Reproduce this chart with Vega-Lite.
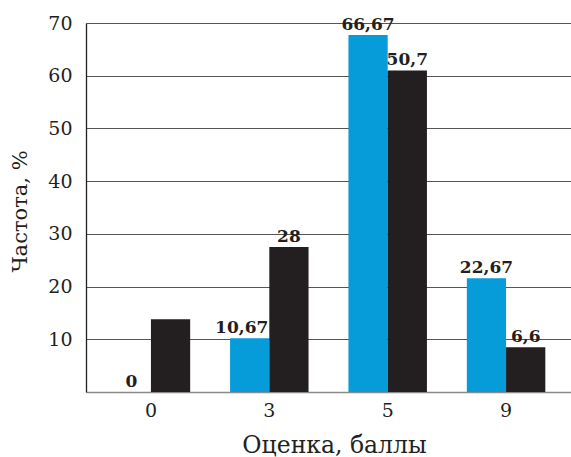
{
  "$schema": "https://vega.github.io/schema/vega-lite/v6.json",
  "width": 485,
  "height": 369,
  "autosize": {"type": "none"},
  "padding": {"left": 86, "top": 23, "right": 0, "bottom": 65},
  "background": "white",
  "config": {
    "view": {"stroke": null},
    "font": "DejaVu Serif"
  },
  "data": {
    "values": [
      {"grade": "0", "series": "A", "value": 0, "label": "0"},
      {"grade": "0", "series": "B", "value": 13.8, "label": ""},
      {"grade": "3", "series": "A", "value": 10.2, "label": "10,67"},
      {"grade": "3", "series": "B", "value": 27.5, "label": "28"},
      {"grade": "5", "series": "A", "value": 67.7, "label": "66,67"},
      {"grade": "5", "series": "B", "value": 61.0, "label": "50,7"},
      {"grade": "9", "series": "A", "value": 21.6, "label": "22,67"},
      {"grade": "9", "series": "B", "value": 8.5, "label": "6,6"}
    ]
  },
  "encoding": {
    "x": {
      "field": "grade",
      "type": "nominal",
      "sort": ["0", "3", "5", "9"],
      "scale": {"paddingInner": 0.337, "paddingOuter": 0.217},
      "axis": {
        "title": "Оценка, баллы",
        "titleFont": "DejaVu Serif",
        "titleFontSize": 23.5,
        "titleFontWeight": "normal",
        "titleColor": "#231F20",
        "titleBaseline": "middle",
        "titleY": 53,
        "titleX": 248,
        "labelAngle": 0,
        "labelFont": "DejaVu Serif",
        "labelFontSize": 19,
        "labelColor": "#231F20",
        "labelBaseline": "middle",
        "labelPadding": 18,
        "ticks": false,
        "tickSize": 0,
        "domainColor": "#8a8a8a",
        "domainWidth": 1.5,
        "grid": false
      }
    },
    "xOffset": {"field": "series", "type": "nominal", "scale": {"paddingInner": 0, "paddingOuter": 0}},
    "y": {
      "field": "value",
      "type": "quantitative",
      "scale": {"domain": [0, 70], "nice": false},
      "axis": {
        "title": "Частота, %",
        "titleFont": "DejaVu Serif",
        "titleFontSize": 21,
        "titleFontWeight": "normal",
        "titleColor": "#231F20",
        "titleAngle": -90,
        "titleBaseline": "middle",
        "titleX": -66,
        "titleY": 188,
        "values": [10, 20, 30, 40, 50, 60, 70],
        "labelFont": "DejaVu Serif",
        "labelFontSize": 19,
        "labelColor": "#231F20",
        "labelPadding": 14,
        "ticks": false,
        "tickSize": 0,
        "domainColor": "#231F20",
        "domainWidth": 1.3,
        "grid": true,
        "gridColor": "#555555",
        "gridWidth": 1.2
      }
    }
  },
  "layer": [
    {
      "mark": {"type": "bar"},
      "encoding": {
        "color": {
          "field": "series",
          "type": "nominal",
          "scale": {"domain": ["A", "B"], "range": ["#069CD9", "#231F20"]},
          "legend": null
        }
      }
    },
    {
      "transform": [{"filter": "datum.label !== '10,67'"}],
      "mark": {"type": "text", "dy": -5, "baseline": "alphabetic", "font": "DejaVu Serif", "fontSize": 17, "fontWeight": "bold", "color": "#231F20"},
      "encoding": {"text": {"field": "label"}}
    },
    {
      "transform": [{"filter": "datum.label === '10,67'"}],
      "mark": {"type": "text", "dy": -5, "dx": -8, "baseline": "alphabetic", "font": "DejaVu Serif", "fontSize": 17, "fontWeight": "bold", "color": "#231F20"},
      "encoding": {"text": {"field": "label"}}
    }
  ]
}
